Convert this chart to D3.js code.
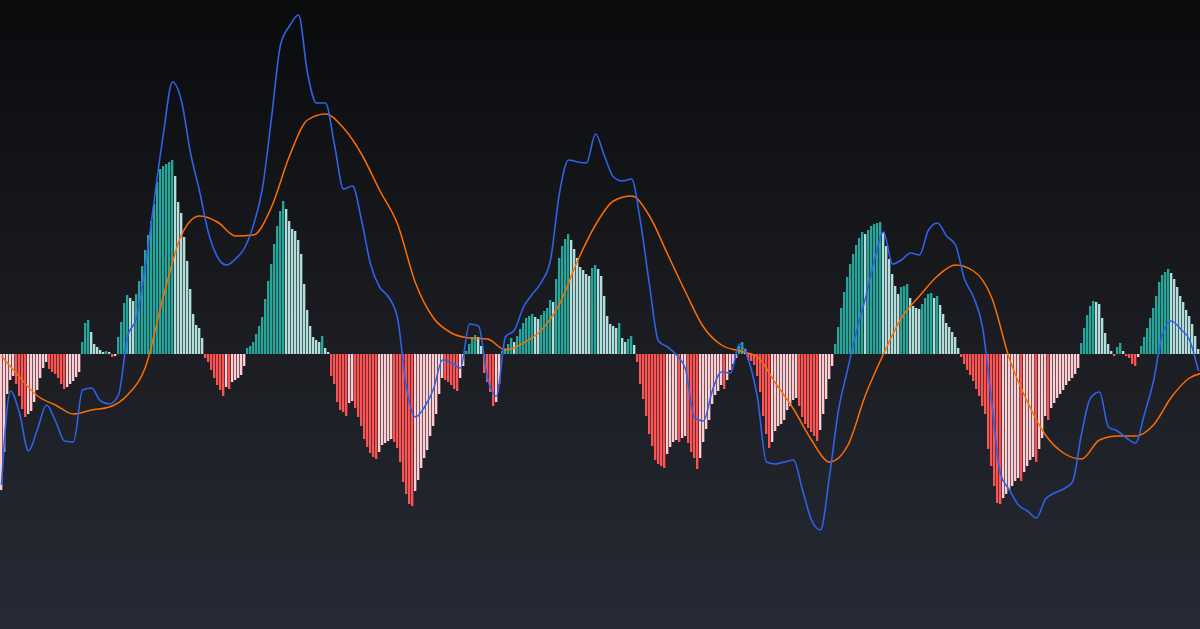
<!DOCTYPE html>
<html lang="en">
<head>
    <meta charset="UTF-8">
    <title>MACD</title>
    <script src="https://d3js.org/d3.v7.min.js"></script>
    <style>
        html, body { margin: 0; padding: 0; background: #15171b; overflow: hidden; }
        svg { display: block; }
    </style>
</head>
<body>
<svg width="1200" height="629"></svg>

<script>
    // histogram, one value per bar (px-ish units, 0 = zero line)
    var hist = [
        -136, -98, -40, -26, -22, -30, -42, -55, -63, -60,
        -57, -48, -36, -24, -14, -8, -15, -18, -20, -24,
        -30, -35, -33, -30, -27, -23, -18, 12, 31, 34,
        22, 10, 7, 4, 2, 3, 2, -3, -2, 17,
        32, 51, 59, 56, 53, 60, 73, 88, 104, 119,
        133, 150, 172, 185, 188, 190, 192, 194, 178, 152,
        141, 117, 93, 65, 40, 29, 26, 16, -4, -8,
        -16, -24, -31, -36, -42, -33, -35, -28, -26, -24,
        -21, -12, 6, 8, 12, 20, 28, 37, 55, 73,
        90, 110, 128, 143, 153, 145, 133, 125, 123, 114,
        100, 70, 44, 28, 17, 14, 12, 18, 6, 2,
        -22, -30, -48, -56, -58, -62, -49, -47, -54, -63,
        -72, -85, -93, -99, -103, -105, -98, -91, -89, -87,
        -85, -88, -94, -108, -128, -140, -150, -152, -137, -126,
        -114, -104, -96, -82, -72, -60, -40, -24, -26, -28,
        -31, -35, -37, -24, -12, 3, 10, 17, 19, 17,
        8, -19, -28, -38, -52, -48, -30, 3, 6, 10,
        16, 12, 18, 25, 31, 36, 38, 40, 37, 35,
        39, 43, 46, 54, 52, 75, 96, 108, 115, 120,
        114, 105, 96, 87, 84, 80, 78, 86, 89, 85,
        78, 58, 38, 30, 28, 26, 31, 16, 12, 15,
        18, 9, -8, -30, -45, -62, -80, -92, -106, -110,
        -112, -114, -100, -93, -88, -86, -88, -84, -82, -89,
        -98, -104, -115, -104, -88, -75, -66, -50, -41, -37,
        -31, -35, -26, -16, -10, -4, 8, 12, 5, -6,
        -7, -11, -22, -38, -62, -80, -94, -88, -77, -72,
        -70, -66, -56, -52, -46, -44, -52, -63, -70, -74,
        -78, -82, -87, -76, -60, -45, -25, -12, 10, 27,
        46, 62, 77, 90, 100, 109, 116, 122, 120, 124,
        128, 130, 131, 132, 122, 108, 95, 80, 68, 60,
        67, 68, 70, 56, 48, 46, 45, 50, 56, 60,
        61, 56, 58, 49, 40, 31, 27, 22, 17, 6,
        -3, -10, -16, -21, -27, -35, -42, -52, -60, -95,
        -112, -132, -149, -150, -144, -140, -136, -132, -127, -124,
        -127, -118, -112, -106, -103, -108, -95, -84, -62, -66,
        -54, -49, -44, -40, -36, -31, -27, -24, -20, -14,
        11, 26, 39, 48, 53, 52, 50, 36, 21, 10,
        3, -2, 7, 11, 3, -2, -4, -10, -12, -3,
        8, 17, 26, 36, 46, 58, 72, 79, 82, 85,
        81, 75, 67, 58, 52, 44, 38, 30, 18, 5
    ];

    // macd line, one value every MACD_STEP bars
    var MACD_STEP = 3;
    var macd = [
        -131, -37, -59, -97, -75, -51, -67, -87, -88, -36,
        -34, -47, -50, -41, 17, 36, 89, 156, 221, 272,
        253, 201, 163, 121, 97, 89, 95, 106, 129, 166,
        236, 309, 328, 339, 281, 251, 251, 209, 165, 168,
        134, 90, 67, 57, 36, -34, -63, -53, -35, -6,
        -9, -14, 30, 28, -24, -42, 17, 24, 47, 60,
        72, 94, 161, 194, 192, 191, 220, 198, 177, 173,
        175, 132, 69, 13, 7, -1, -15, -64, -67, -36,
        -18, -19, 10, -6, -44, -108, -110, -108, -106, -136,
        -166, -176, -122, -56, -16, 23, 56, 94, 122, 90,
        94, 101, 99, 124, 131, 118, 109, 75, 57, 27,
        -46, -120, -136, -151, -157, -164, -145, -139, -135, -128,
        -80, -44, -38, -73, -77, -84, -89, -60, -27, 20,
        33, 25, 14, -17
    ];

    // signal line, one value every SIGNAL_STEP bars
    var SIGNAL_STEP = 6;
    var signal = [
        -2, -23, -42, -51, -60, -56, -53, -41, -13, 58,
        119, 138, 132, 118, 119, 147, 198, 234, 240, 226,
        200, 164, 130, 71, 36, 21, 16, 15, 4, 11,
        24, 50, 93, 129, 153, 158, 138, 100, 62, 27,
        9, 3, -3, -29, -55, -86, -108, -92, -41, 0,
        36, 58, 78, 89, 83, 57, -5, -48, -81, -99,
        -105, -86, -82, -82, -71, -43, -24, -18
    ];

    var svg = d3.select("svg"),
        width = +svg.attr("width"),
        height = +svg.attr("height");

    var defs = svg.append("defs");
    var grad = defs.append("linearGradient")
        .attr("id", "bg")
        .attr("x1", 0).attr("y1", 0)
        .attr("x2", 0).attr("y2", 1);
    grad.append("stop").attr("offset", "0%").attr("stop-color", "#0a0b0d");
    grad.append("stop").attr("offset", "55%").attr("stop-color", "#1b1d22");
    grad.append("stop").attr("offset", "100%").attr("stop-color", "#272a35");

    svg.append("rect")
        .attr("width", width)
        .attr("height", height)
        .attr("fill", "url(#bg)");

    var x = d3.scaleLinear().domain([0, hist.length]).range([0, width]);
    var y = d3.scaleLinear().domain([-275, 354]).range([height, 0]);

    function barColor(d, i) {
        var prev = i > 0 ? hist[i - 1] : -Infinity;
        if (d >= 0) return d >= prev ? "#26a69a" : "#b2dfdb";
        return d <= prev ? "#ff5252" : "#ffcdd2";
    }

    svg.append("g")
        .attr("class", "hist")
        .selectAll("rect")
        .data(hist)
        .enter().append("rect")
        .attr("x", function (d, i) { return x(i); })
        .attr("width", (x(1) - x(0)) * 0.78)
        .attr("y", function (d) { return Math.round(y(Math.max(0, d))); })
        .attr("height", function (d) { return Math.round(Math.abs(y(d) - y(0))); })
        .attr("fill", barColor);

    var macdLine = d3.line()
        .x(function (d, i) { return x(i * MACD_STEP + 0.5); })
        .y(function (d) { return y(d); })
        .curve(d3.curveMonotoneX);

    var signalLine = d3.line()
        .x(function (d, i) { return x(i * SIGNAL_STEP + 0.5); })
        .y(function (d) { return y(d); })
        .curve(d3.curveMonotoneX);

    svg.append("path")
        .datum(signal)
        .attr("fill", "none")
        .attr("stroke", "#ff6d00")
        .attr("stroke-width", 1.5)
        .attr("d", signalLine);

    svg.append("path")
        .datum(macd)
        .attr("fill", "none")
        .attr("stroke", "#2f62e8")
        .attr("stroke-width", 1.6)
        .attr("d", macdLine);
</script>

</body>

</html>
